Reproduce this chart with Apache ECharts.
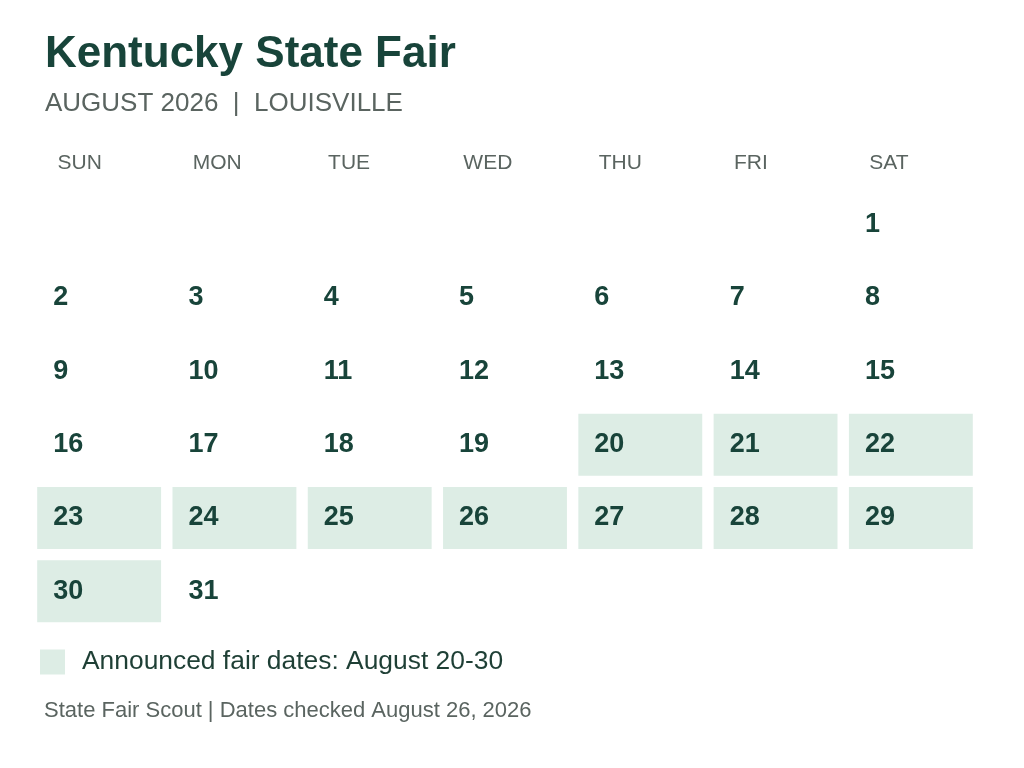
<!DOCTYPE html>
<html>
<head>
<meta charset="utf-8">
<script src="https://cdn.jsdelivr.net/npm/echarts@6/dist/echarts.min.js"></script>
<style>
  html, body { margin: 0; padding: 0; background: #ffffff; }
  #chart { width: 1024px; height: 768px; }
</style>
</head>
<body>
<div id="chart"></div>
<script>
// -----------------------------------------------------------------------------
// Data
// -----------------------------------------------------------------------------
const YEAR = 2026;
const MONTH_INDEX = 7; // August
const DAY_NAMES = ["SUN", "MON", "TUE", "WED", "THU", "FRI", "SAT"];
const DATES = [1, 2, 3, 4, 5, 6, 7, 8, 9, 10, 11, 12, 13, 14, 15, 16,
  17, 18, 19, 20, 21, 22, 23, 24, 25, 26, 27, 28, 29, 30, 31];
const FAIR_DATES = [20, 21, 22, 23, 24, 25, 26, 27, 28, 29, 30];
const FAIR_LABEL = "Announced fair dates: August 20-30";

// -----------------------------------------------------------------------------
// Styling
// -----------------------------------------------------------------------------
const FONT = "'Liberation Sans', Arial, sans-serif";
const DARK = "#18443a";
const GREY = "#5a6460";
const FAIR_FILL = "#ddede5";
const INSET = 5.7;

const firstWeekday = new Date(YEAR, MONTH_INDEX, 1).getDay();
const toCell = (d) => {
  const idx = firstWeekday + d - 1;
  return [idx % 7, Math.floor(idx / 7), d];
};

const chart = echarts.init(document.getElementById("chart"), null, {
  renderer: "canvas",
});

const renderCell = (params, api) => {
  const p = api.coord([api.value(0), api.value(1)]);
  const s = api.size([1, 1]);
  return {
    type: "rect",
    shape: {
      x: p[0] + INSET,
      y: p[1] + INSET,
      width: s[0] - INSET * 2,
      height: s[1] - INSET * 2,
    },
    style: { fill: FAIR_FILL },
  };
};

const renderNumber = (params, api) => {
  const p = api.coord([api.value(0), api.value(1)]);
  const s = api.size([1, 1]);
  return {
    type: "text",
    style: {
      x: p[0] + INSET + 16,
      y: p[1] + s[1] / 2,
      text: String(api.value(2)),
      fill: DARK,
      font: `bold 27px ${FONT}`,
      align: "left",
      verticalAlign: "middle",
    },
  };
};

const option = {
  backgroundColor: "#ffffff",
  animation: false,
  title: [
    {
      text: "Kentucky State Fair",
      left: 45,
      top: 33,
      padding: 0,
      textStyle: { fontFamily: FONT, fontSize: 44, fontWeight: "bold", color: DARK },
    },
    {
      text: "AUGUST 2026  |  LOUISVILLE",
      left: 45,
      top: 91,
      padding: 0,
      textStyle: { fontFamily: FONT, fontSize: 26, fontWeight: "normal", color: GREY },
    },
    {
      text: "State Fair Scout | Dates checked August 26, 2026",
      left: 44,
      top: 700,
      padding: 0,
      textStyle: { fontFamily: FONT, fontSize: 22, fontWeight: "normal", color: GREY },
    },
  ],
  legend: {
    left: 40,
    top: 649,
    padding: 0,
    itemWidth: 25,
    itemHeight: 25,
    data: [{ name: FAIR_LABEL, icon: "rect", itemStyle: { color: FAIR_FILL } }],
    textStyle: {
      fontFamily: FONT,
      fontSize: 26.4,
      color: "#1e3f35",
      padding: [0, 0, 0, 12],
    },
  },
  grid: { left: 31.5, top: 188, width: 947, height: 440 },
  xAxis: {
    type: "value",
    position: "top",
    min: 0,
    max: 7,
    interval: 1,
    axisLine: { show: false },
    axisTick: { show: false },
    splitLine: { show: false },
    axisLabel: {
      margin: 25,
      align: "left",
      verticalAlign: "middle",
      padding: [0, 0, 0, 26],
      fontFamily: FONT,
      fontSize: 21,
      color: GREY,
      formatter: (v) => DAY_NAMES[v] || "",
    },
  },
  yAxis: {
    type: "value",
    inverse: true,
    min: 0,
    max: 6,
    interval: 1,
    show: false,
  },
  series: [
    {
      name: FAIR_LABEL,
      type: "custom",
      itemStyle: { color: FAIR_FILL },
      renderItem: renderCell,
      data: FAIR_DATES.map(toCell),
      z: 1,
    },
    {
      name: "dates",
      type: "custom",
      renderItem: renderNumber,
      data: DATES.map(toCell),
      z: 2,
    },
  ],
};

chart.setOption(option);
</script>
</body>
</html>
